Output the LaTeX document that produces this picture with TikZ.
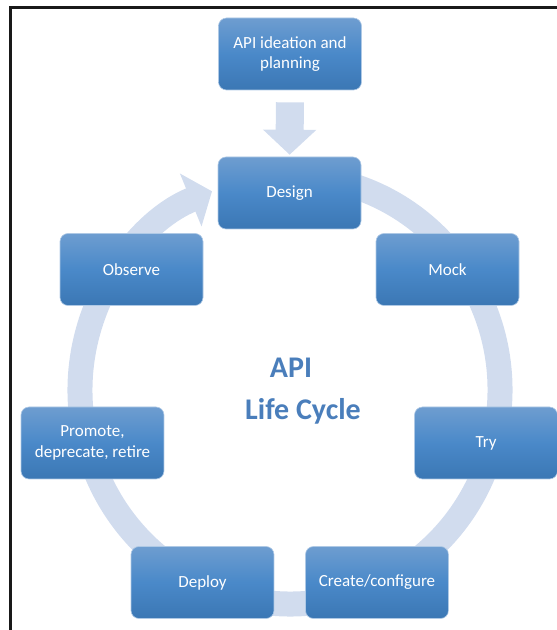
\documentclass[tikz,border=0pt]{standalone}
\usepackage{fontspec}
\setmainfont{Carlito}
\definecolor{StageTop}{HTML}{6E9DD0}
\definecolor{StageMid}{HTML}{4A89C9}
\definecolor{StageBot}{HTML}{3B77B4}
\definecolor{RingBlue}{HTML}{D1DCEE}
\definecolor{TitleBlue}{HTML}{4A7EBB}
\usetikzlibrary{positioning, arrows.meta}

\begin{document}
\begin{tikzpicture}[x=1pt, y=1pt,
  stage/.style={rectangle, rounded corners=8pt, minimum width=143pt, minimum height=72pt,
    top color=StageTop, bottom color=StageBot, middle color=StageMid,
    draw=StageTop!55!white, line width=0.6pt, text=white, align=center, inner sep=2pt,
    font=\fontsize{17}{20.5}\selectfont}]
  \useasboundingbox (0,0) rectangle (557,630);
  % Frame
  \draw[line width=3pt, black!90] (10.5,0) -- (10.5,622.5) -- (557,622.5);
  % Cycle ring
  \draw[RingBlue, line width=25pt, -{Triangle[length=23pt, width=56pt]}]
    (290,240) ++(80:210 and 214) arc[start angle=80, end angle=-248.2, x radius=210, y radius=214];
  % Stages
  \node[stage] (idea) at (290,576) {API ideation and\\planning};
  \node[stage] (design) at (289.5,437) {Design};
  \node[stage] (mock) at (447.5,360.5) {Mock};
  \node[stage] (tryit) at (486,187) {Try};
  \node[stage] (create) at (377,47.5) {Create/configure};
  \node[stage] (deploy) at (202.5,47.5) {Deploy};
  \node[stage] (promote) at (92.5,187) {Promote,\\deprecate, retire};
  \node[stage] (observe) at (131.5,360.5) {Observe};
  % Entry arrow
  \draw[RingBlue, line width=28pt, -{Triangle[length=25pt, width=52pt]}, shorten <=12pt, shorten >=2pt]
    (idea) -- (design);
  % Title
  \node[font=\bfseries\fontsize{30}{42}\selectfont, text=TitleBlue, align=center] (title) at (303,238.5)
    {API\hspace*{24pt}\\Life Cycle};
\end{tikzpicture}
\end{document}
